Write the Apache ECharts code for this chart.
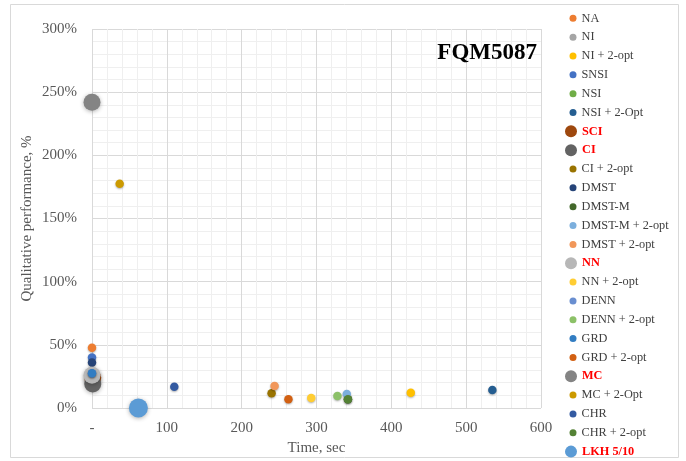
<!DOCTYPE html>
<html><head><meta charset="utf-8">
<script src="https://cdn.jsdelivr.net/npm/echarts@6/dist/echarts.min.js"></script>
<style>html,body{margin:0;padding:0;background:#fff}#c{width:686px;height:461px}</style>
</head><body><div id="c"></div>
<script>
const seriesNames = ['NA','NI','NI + 2-opt','SNSI','NSI','NSI + 2-Opt','SCI','CI','CI + 2-opt','DMST','DMST-M','DMST-M + 2-opt','DMST + 2-opt','NN','NN + 2-opt','DENN','DENN + 2-opt','GRD','GRD + 2-opt','MC','MC + 2-Opt','CHR','CHR + 2-opt','LKH 5/10'];
const seriesColors = ['#ED7D31','#A5A5A5','#FFC000','#4472C4','#70AD47','#255E91','#9E480E','#636363','#997300','#264478','#43682B','#7CAFDD','#F1975A','#B7B7B7','#FFCD33','#698ED0','#8CC168','#327DC2','#D26012','#848484','#CC9A00','#335AA1','#548235','#5B9BD5'];
const highlighted = ['SCI','CI','NN','MC','LKH 5/10'];
// time, sec
const timeSec = [0, 0, 426, 0, 0, 535, 1, 1, 240, 0, 342, 340.5, 244, 0, 293, 0, 328, 0, 262.5, 0, 37, 110, 342, 62];
// qualitative performance (fraction, 1 = 100%)
const qualPerf = [0.477, 0.24, 0.121, 0.40, 0.22, 0.143, 0.24, 0.19, 0.116, 0.36, 0.07, 0.111, 0.174, 0.26, 0.08, 0.275, 0.095, 0.275, 0.069, 2.42, 1.775, 0.169, 0.069, 0.0];
const xTicks = [0, 100, 200, 300, 400, 500, 600];
const yTicks = [0, 0.5, 1, 1.5, 2, 2.5, 3];

const FONT = 'Liberation Serif';
const isBig = n => highlighted.indexOf(n) >= 0;

const series = seriesNames.map((n, i) => ({
  name: n,
  type: 'scatter',
  symbol: 'circle',
  symbolSize: n === 'LKH 5/10' ? 19 : (isBig(n) ? 17 : 8.5),
  itemStyle: {
    color: seriesColors[i],
    opacity: 1,
    shadowBlur: isBig(n) ? 4 : 2,
    shadowColor: 'rgba(0,0,0,0.3)',
    shadowOffsetY: 1
  },
  emphasis: {disabled: true},
  data: [[timeSec[i], qualPerf[i]]]
}));

const legends = seriesNames.map((n, i) => {
  const big = isBig(n);
  const s = big ? 12 : 7;
  const cy = 18.3 + i * 18.84;
  return {
    orient: 'vertical',
    left: big ? 565 : 569.5,
    top: cy - 7.5,
    padding: 0,
    itemWidth: s,
    itemHeight: s,
    icon: 'circle',
    selectedMode: false,
    textStyle: {fontFamily: FONT, fontSize: 12.3, color: '#404040', lineHeight: 15},
    data: [big ? {name: n, textStyle: {color: '#FF0000', fontWeight: 'bold'}} : {name: n}]
  };
});

const chart = echarts.init(document.getElementById('c'), null, {renderer: 'canvas'});
chart.setOption({
  backgroundColor: '#ffffff',
  animation: false,
  title: {
    text: 'FQM5087', right: 149, top: 42, padding: 0,
    textStyle: {fontFamily: FONT, fontWeight: 'bold', fontSize: 23, color: '#000'}
  },
  graphic: [{
    type: 'rect', z: -10, silent: true,
    shape: {x: 10.5, y: 4.5, width: 668, height: 453},
    style: {fill: 'none', stroke: '#d9d9d9', lineWidth: 1}
  }],
  grid: {left: 92, right: 145, top: 29, bottom: 53, containLabel: false},
  xAxis: {
    type: 'value', min: xTicks[0], max: xTicks[xTicks.length - 1], interval: 100,
    name: 'Time, sec', nameLocation: 'middle', nameGap: 33, nameMoveOverlap: false,
    nameTextStyle: {fontFamily: FONT, fontSize: 15, color: '#595959'},
    axisLine: {show: false}, axisTick: {show: false},
    axisLabel: {fontFamily: FONT, fontSize: 15, color: '#595959', margin: 13,
      formatter: v => v === 0 ? '-' : String(v)},
    splitLine: {show: true, lineStyle: {color: '#d9d9d9', width: 1}},
    minorTick: {show: false, splitNumber: 5},
    minorSplitLine: {show: true, lineStyle: {color: '#efefef', width: 1}}
  },
  yAxis: {
    type: 'value', min: yTicks[0], max: yTicks[yTicks.length - 1], interval: 0.5,
    name: 'Qualitative performance, %', nameLocation: 'middle', nameGap: 57, nameMoveOverlap: false,
    nameTextStyle: {fontFamily: FONT, fontSize: 15, color: '#595959'},
    axisLine: {show: false}, axisTick: {show: false},
    axisLabel: {fontFamily: FONT, fontSize: 15, color: '#595959', margin: 15,
      formatter: v => Math.round(v * 100) + '%'},
    splitLine: {show: true, lineStyle: {color: '#d9d9d9', width: 1}},
    minorTick: {show: false, splitNumber: 5},
    minorSplitLine: {show: true, lineStyle: {color: '#efefef', width: 1}}
  },
  legend: legends,
  series: series
});
</script>
</body></html>
